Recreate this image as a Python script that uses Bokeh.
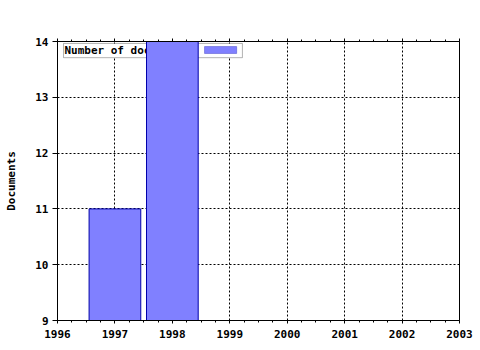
from bokeh.plotting import figure
from bokeh.models import (Range1d, LinearAxis, BoxAnnotation, Label, FixedTicker, Grid)
from bokeh.embed import file_html
from bokeh.resources import INLINE

years = [1997, 1998]
docs = [11, 14]
x_ticks = [1996, 1997, 1998, 1999, 2000, 2001, 2002, 2003]
y_ticks = [9, 10, 11, 12, 13, 14]
series_name = "Number of documents"
y_title = "Documents"

FONT = "DejaVu Sans Mono"

p = figure(width=480, height=350, output_backend="svg", toolbar_location=None,
           x_range=Range1d(1996, 2003), y_range=Range1d(9, 14),
           x_axis_location=None, y_axis_location=None,
           min_border_left=57, min_border_right=21, min_border_top=41,
           min_border_bottom=30)
p.outline_line_color = None
p.background_fill_color = "white"
p.border_fill_color = "white"

minor = [1996 + i * 0.25 for i in range(29)]
bottom = LinearAxis(ticker=FixedTicker(ticks=x_ticks, minor_ticks=minor))
top = LinearAxis(ticker=FixedTicker(ticks=x_ticks, minor_ticks=minor))
left = LinearAxis(ticker=FixedTicker(ticks=y_ticks), axis_label=y_title)
right = LinearAxis(ticker=FixedTicker(ticks=y_ticks))

for ax in (bottom, top, left, right):
    ax.axis_line_color = "black"
    ax.axis_line_width = 1
    ax.major_tick_line_color = "black"
    ax.minor_tick_line_color = "black"
    ax.major_label_text_font = FONT
    ax.major_label_text_font_style = "bold"
    ax.major_label_text_font_size = "11px"
    ax.major_label_text_color = "black"

bottom.major_tick_in = 0
bottom.major_tick_out = 3
bottom.minor_tick_in = 0
bottom.minor_tick_out = 2
bottom.major_label_standoff = 6

top.major_tick_in = 0
top.major_tick_out = 3
top.minor_tick_in = 0
top.minor_tick_out = 2
top.major_label_text_font_size = "0px"
top.major_label_text_color = None

left.major_tick_in = 0
left.major_tick_out = 5
left.minor_tick_line_color = None
left.major_label_standoff = 4
left.axis_label_text_font = FONT
left.axis_label_text_font_style = "bold"
left.axis_label_text_font_size = "11px"
left.axis_label_text_color = "black"
left.axis_label_standoff = 14

right.major_tick_line_color = None
right.minor_tick_line_color = None
right.major_label_text_color = None
right.major_label_text_font_size = "0px"

p.add_layout(bottom, "below")
p.add_layout(top, "above")
p.add_layout(left, "left")
p.add_layout(right, "right")

p.xgrid.visible = False
p.ygrid.visible = False
xg = Grid(dimension=0, ticker=bottom.ticker, grid_line_color="black",
          grid_line_dash="2 2", grid_line_width=1)
yg = Grid(dimension=1, ticker=left.ticker, grid_line_color="black",
          grid_line_dash="2 2", grid_line_width=1)
p.add_layout(xg)
p.add_layout(yg)

# legend drawn beneath the bars, as in the reference
leg_box = BoxAnnotation(left=1996.105, right=1999.22, top=13.965, bottom=13.71,
                        fill_color="white", fill_alpha=1.0,
                        line_color="black", line_width=1, level="underlay")
p.add_layout(leg_box)
leg_sw = BoxAnnotation(left=1998.56, right=1999.12, top=13.91, bottom=13.785,
                       fill_color="#8080ff", fill_alpha=1.0,
                       line_color="#0000aa", line_width=1, level="underlay")
p.add_layout(leg_sw)
leg_txt = Label(x=1996.12, y=13.84, text=series_name, text_font=FONT,
                text_font_style="bold", text_font_size="11px",
                text_baseline="middle", text_color="black", level="underlay")
p.add_layout(leg_txt)

p.vbar(x=years, top=docs, bottom=9, width=0.9, fill_color="#8080ff",
       line_color="#0000aa", line_width=1)

open("out.html", "w").write(file_html(p, INLINE))
